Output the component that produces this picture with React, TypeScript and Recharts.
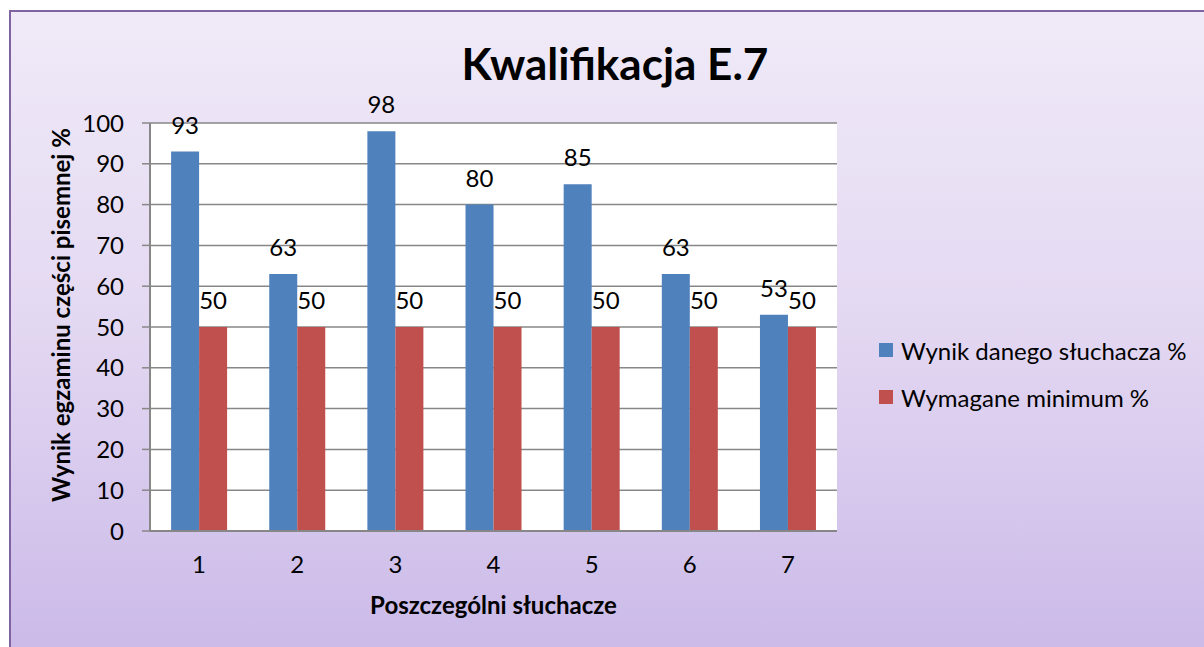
// Bar chart: written exam scores per listener vs the required minimum (E.7 qualification).
import { Bar, BarChart, CartesianGrid, LabelList, Legend, XAxis, YAxis } from 'recharts';

const listeners = ['1', '2', '3', '4', '5', '6', '7'];
const scores = [93, 63, 98, 80, 85, 63, 53];
const minimum = [50, 50, 50, 50, 50, 50, 50];
const yTicks = [0, 10, 20, 30, 40, 50, 60, 70, 80, 90, 100];

const SERIES = [
  { key: 'score', name: 'Wynik danego słuchacza %', color: '#4f81bd' },
  { key: 'min', name: 'Wymagane minimum %', color: '#c0504d' },
];

const data = listeners.map((l, i) => ({ name: l, score: scores[i], min: minimum[i] }));

const FONT = 'Lato, "Open Sans", sans-serif';
const axisGrey = '#878787';
const tickStyle = { fill: '#000', fontSize: 24, fontFamily: FONT };

function LegendBox() {
  return (
    <div style={{ fontFamily: FONT, fontSize: 24, color: '#000' }}>
      {SERIES.map((s) => (
        <div key={s.key} style={{ display: 'flex', alignItems: 'center', height: 28, marginBottom: 19, whiteSpace: 'nowrap' }}>
          <span style={{ width: 14, height: 14, background: s.color, display: 'inline-block', marginRight: 8 }} />
          {s.name}
        </div>
      ))}
    </div>
  );
}

export default function App() {
  return (
    <div style={{ position: 'fixed', left: 0, top: 0, width: 1204, height: 647, overflow: 'hidden', background: '#fff' }}>
      <div style={{
        position: 'absolute', left: 9, top: 10, width: 1220, height: 660,
        border: '2px solid #8064a2',
        background: 'linear-gradient(180deg, #f0eaf8 0%, #e4d9f2 45%, #c9b8e8 100%)',
      }} />
      <div style={{
        position: 'absolute', left: 0, width: 1230, top: 34, textAlign: 'center',
        fontFamily: FONT, fontWeight: 700, fontSize: 44, color: '#000', lineHeight: '58px',
      }}>Kwalifikacja E.7</div>
      <div style={{ position: 'absolute', left: 0, top: 0 }}>
        <BarChart width={1204} height={647} data={data}
          margin={{ top: 123, right: 367, bottom: 36, left: 0 }}
          barCategoryGap="21.5%" barGap={0}>
          <CartesianGrid fill="#fff" stroke={axisGrey} strokeWidth={1.5} vertical={false} />
          <XAxis dataKey="name" height={80} tickLine={false} tickSize={0} tickMargin={25}
            axisLine={{ stroke: axisGrey, strokeWidth: 2 }} tick={tickStyle}
            label={{
              content: ({ viewBox }: any) => (
                <text x={viewBox.x + viewBox.width / 2} y={viewBox.y + 83} textAnchor="middle"
                  fontFamily={FONT} fontWeight={700} fontSize={24} fill="#000">Poszczególni słuchacze</text>
              ),
            }} />
          <YAxis width={150} domain={[0, 100]} ticks={yTicks} interval={0} tickSize={8} tickMargin={18}
            axisLine={{ stroke: axisGrey, strokeWidth: 2 }} tickLine={{ stroke: axisGrey, strokeWidth: 1.5 }}
            tick={tickStyle}
            label={{
              content: ({ viewBox }: any) => {
                const cx = viewBox.x + 60;
                const cy = viewBox.y + viewBox.height / 2 - 12;
                return (
                  <text x={cx} y={cy} transform={`rotate(-90 ${cx} ${cy})`} textAnchor="middle"
                    dominantBaseline="central" fontFamily={FONT} fontWeight={700} fontSize={24} fill="#000">
                    Wynik egzaminu części pisemnej %
                  </text>
                );
              },
            }} />
          <Legend layout="vertical" align="center" verticalAlign="middle"
            wrapperStyle={{ left: 879, top: 336, width: 325 }} content={() => <LegendBox />} />
          {SERIES.map((s) => (
            <Bar key={s.key} dataKey={s.key} name={s.name} fill={s.color} isAnimationActive={false}>
              <LabelList dataKey={s.key} position="top" offset={18} fill="#000" fontSize={24} fontFamily={FONT} />
            </Bar>
          ))}
        </BarChart>
      </div>
    </div>
  );
}
